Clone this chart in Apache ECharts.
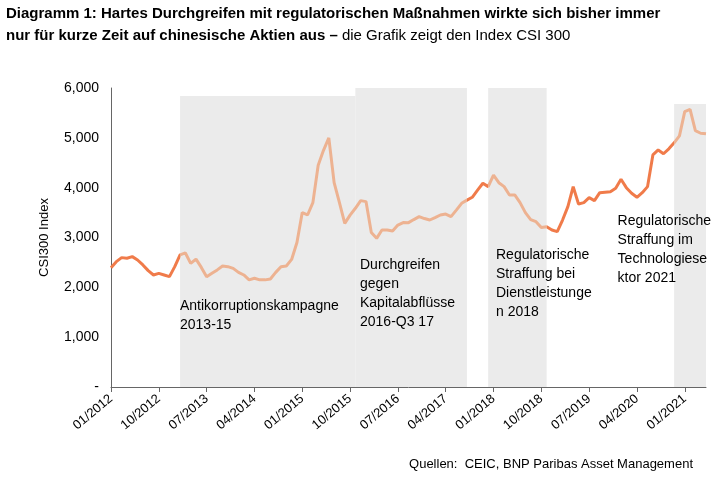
<!DOCTYPE html>
<html>
<head>
<meta charset="utf-8">
<script src="https://cdn.jsdelivr.net/npm/echarts@6/dist/echarts.min.js"></script>
<style>html,body{margin:0;padding:0;background:#fff}#main{width:725px;height:480px}</style>
</head>
<body>
<div id="main"></div>
<script>
// Monatswerte CSI 300, 01/2012 - 05/2021
var csiValues = [
    2395, 2515, 2596, 2583, 2616, 2549, 2449, 2335, 2248, 2281, 2248, 2214,
    2415, 2650, 2690, 2480, 2566, 2400, 2212, 2281, 2350, 2428, 2415, 2380,
    2300, 2248, 2150, 2181, 2150, 2150, 2167, 2300, 2415, 2428, 2560, 2900,
    3500, 3452, 3700, 4450, 4750, 5000, 4100, 3700, 3284, 3450, 3586, 3740,
    3720, 3100, 2983, 3150, 3150, 3130, 3250, 3300, 3298, 3360, 3418, 3380,
    3351, 3400, 3452, 3470, 3418, 3550, 3686, 3750, 3807, 3950, 4088, 4021,
    4250, 4100, 4021, 3854, 3854, 3700, 3500, 3360, 3318, 3200, 3217, 3150,
    3117, 3350, 3619, 4021, 3673, 3700, 3800, 3740, 3900, 3910, 3920, 3988,
    4168, 4000, 3887, 3807, 3900, 4021, 4657, 4757, 4680, 4780, 4900, 5039,
    5527, 5573, 5145, 5092, 5080
];
var startYear = 2012;
var months = [];
for (let i = 0; i < csiValues.length; i++) {
    let m = i % 12 + 1;
    months.push((m < 10 ? '0' + m : '' + m) + '/' + (startYear + Math.floor(i / 12)));
}
// Phasen regulatorischer Maßnahmen: [Start, Ende, Obergrenze]
var phases = [
    ['02/2013', '11/2015', 5840],
    ['11/2015', '08/2017', 6000],
    ['12/2017', '11/2018', 6000],
    ['11/2020', '05/2021', 5680]
];
var yTicks = ['-', '1,000', '2,000', '3,000', '4,000', '5,000', '6,000'];

var dark = '#F07B4A', light = '#EDB291';
var font = 'Liberation Sans Narrow, Liberation Sans, Arial, sans-serif';

var chart = echarts.init(document.getElementById('main'));
var option = {
    animation: false,
    grid: {left: 111, right: 19, top: 88, bottom: 93},
    xAxis: {
        type: 'category',
        data: months,
        boundaryGap: false,
        axisLine: {lineStyle: {color: '#666'}},
        axisTick: {interval: 8, lineStyle: {color: '#666'}, length: 5},
        axisLabel: {interval: 8, rotate: 40, color: '#000', fontSize: 13, fontFamily: font, margin: 10}
    },
    yAxis: {
        type: 'value', min: 0, max: 6000, interval: 1000,
        name: 'CSI300 Index', nameLocation: 'middle', nameGap: 60,
        nameTextStyle: {color: '#000', fontSize: 13, fontFamily: font},
        axisLine: {show: true, lineStyle: {color: '#666'}},
        splitLine: {show: false},
        axisLabel: {color: '#000', fontSize: 14, fontFamily: font, margin: 12,
            formatter: function (v) { return yTicks[v / 1000]; }}
    },
    visualMap: {
        show: false, type: 'piecewise', dimension: 0,
        pieces: [
            {lt: 13, color: dark}, {gte: 13, lte: 67, color: light},
            {gt: 67, lt: 71, color: dark}, {gte: 71, lte: 82, color: light},
            {gt: 82, lt: 106, color: dark}, {gte: 106, color: light}
        ]
    },
    series: [{
        type: 'line', data: csiValues, showSymbol: false,
        lineStyle: {width: 3},
        markArea: {
            silent: true,
            itemStyle: {color: '#ebebeb'},
            data: phases.map(function (p) { return [{xAxis: p[0], yAxis: 0}, {xAxis: p[1], yAxis: p[2]}]; })
        }
    }],
    graphic: [
        {type: 'text', z: 100, left: 6, top: 6, style: {text: 'Diagramm 1: Hartes Durchgreifen mit regulatorischen Maßnahmen wirkte sich bisher immer',
            font: 'bold 15px ' + font, fill: '#000'}},
        {type: 'text', z: 100, left: 6, top: 28, style: {
            text: '{b|nur für kurze Zeit auf chinesische Aktien aus – }{n|die Grafik zeigt den Index CSI 300}',
            rich: {b: {font: 'bold 15px ' + font, fill: '#000'}, n: {font: '15px ' + font, fill: '#000'}}}},
        {type: 'text', z: 100, left: 180, top: 297, style: {text: 'Antikorruptionskampagne\n2013-15', font: '14px ' + font, lineHeight: 19, fill: '#000'}},
        {type: 'text', z: 100, left: 360, top: 256, style: {text: 'Durchgreifen\ngegen\nKapitalabflüsse\n2016-Q3 17', font: '14px ' + font, lineHeight: 19, fill: '#000'}},
        {type: 'text', z: 100, left: 496, top: 246, style: {text: 'Regulatorische\nStraffung bei\nDienstleistunge\nn 2018', font: '14px ' + font, lineHeight: 19, fill: '#000'}},
        {type: 'text', z: 100, right: 14, top: 212, style: {text: 'Regulatorische\nStraffung im\nTechnologiese\nktor 2021', font: '14px ' + font, lineHeight: 19, fill: '#000', align: 'right'}},
        {type: 'text', z: 100, right: 32, top: 458, style: {text: 'Quellen:  CEIC, BNP Paribas Asset Management', font: '13px ' + font, fill: '#000'}}
    ]
};
chart.setOption(option);
</script>
</body>
</html>
